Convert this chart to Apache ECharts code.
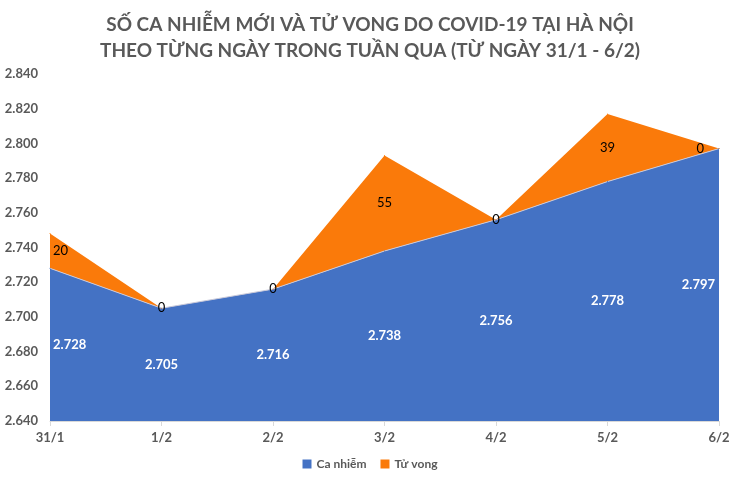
<!DOCTYPE html>
<html><head><meta charset="utf-8">
<script src="https://cdn.jsdelivr.net/npm/echarts@6/dist/echarts.min.js"></script>
<style>html,body{margin:0;padding:0;background:#fff}#c{width:740px;height:481px}</style>
</head><body><div id="c"></div>
<script>
const categories = ['31/1','1/2','2/2','3/2','4/2','5/2','6/2'];
const caNhiem = [2728, 2705, 2716, 2738, 2756, 2778, 2797];
const tuVong = [20, 0, 0, 55, 0, 39, 0];
const yTicks = {min: 2640, max: 2840, interval: 20};
const titleText = 'SỐ CA NHIỄM MỚI VÀ TỬ VONG DO COVID-19 TẠI HÀ NỘI\nTHEO TỪNG NGÀY TRONG TUẦN QUA (TỪ NGÀY 31/1 - 6/2)';

const FONT = 'Lato';
const GRAY = '#595959';
const BLUE = '#4472C4', ORANGE = '#FA7A0A';
const fmt = v => { const s = String(Math.round(v)); return s.length > 3 ? s.slice(0, s.length-3) + '.' + s.slice(-3) : s; };

const chart = echarts.init(document.getElementById('c'), null, {renderer: 'canvas'});

function baseSeries(name, data, color, labelColor, bold, fmtFn) {
  return {
    name: name, type: 'line', stack: 'total', data: data,
    symbol: 'circle', symbolSize: 1, showSymbol: true, color: color,
    itemStyle: {color: color},
    lineStyle: {width: name === 'Ca nhiễm' ? 1 : 0, color: '#c9c9d9'},
    areaStyle: {color: color, opacity: 1},
    label: {show: true, position: 'inside', formatter: p => fmtFn(p.value), color: labelColor,
            fontFamily: FONT, fontWeight: bold ? 'bold' : 'normal', fontSize: 13}
  };
}

chart.setOption({
  animation: false,
  title: {
    text: titleText, left: 'center', top: 7,
    textStyle: {fontFamily: FONT, fontWeight: 'bold', fontSize: 19, color: GRAY, lineHeight: 26}
  },
  legend: {
    bottom: 6, left: 'center', itemWidth: 9, itemHeight: 9, itemGap: 14,
    icon: 'rect',
    textStyle: {fontFamily: FONT, fontWeight: 'bold', fontSize: 12, color: GRAY},
    data: ['Ca nhiễm', 'Tử vong']
  },
  grid: {left: 50, right: 21, top: 74, bottom: 60},
  xAxis: {
    type: 'category', data: categories, boundaryGap: false,
    axisLine: {lineStyle: {color: '#d9d9d9'}},
    axisTick: {show: true, length: 5, lineStyle: {color: '#d9d9d9'}},
    axisLabel: {fontFamily: FONT, fontWeight: 'bold', fontSize: 13, color: GRAY, margin: 10}
  },
  yAxis: {
    type: 'value', min: yTicks.min, max: yTicks.max, interval: yTicks.interval,
    splitLine: {show: false}, axisLine: {show: false}, axisTick: {show: false},
    axisLabel: {fontFamily: FONT, fontWeight: 'bold', fontSize: 13, color: GRAY, margin: 12, formatter: fmt}
  },
  series: [
    baseSeries('Ca nhiễm', caNhiem, BLUE, '#ffffff', true, fmt),
    baseSeries('Tử vong', tuVong, ORANGE, '#000000', false, v => String(v))
  ]
});

// Place each label at the vertical middle of its band, using the chart's own scale.
function itemsFor(seriesIndex) {
  return categories.map((c, i) => {
    const base = seriesIndex === 0 ? yTicks.min : caNhiem[i];
    const top = seriesIndex === 0 ? caNhiem[i] : caNhiem[i] + tuVong[i];
    const pTop = chart.convertToPixel({gridIndex: 0}, [i, top]);
    const pBase = chart.convertToPixel({gridIndex: 0}, [i, base]);
    let dx = 0, align = 'center';
    if (i === 0) { dx = 3; align = 'left'; }
    else if (i === categories.length - 1) { dx = seriesIndex === 0 ? -4 : -15; align = 'right'; }
    const dy = (pBase[1] - pTop[1]) / 2;
    const v = seriesIndex === 0 ? caNhiem[i] : tuVong[i];
    return {value: v, label: {offset: [dx, dy], align: align, verticalAlign: 'middle'}};
  });
}
chart.setOption({series: [{data: itemsFor(0)}, {data: itemsFor(1)}]});
</script></body></html>
